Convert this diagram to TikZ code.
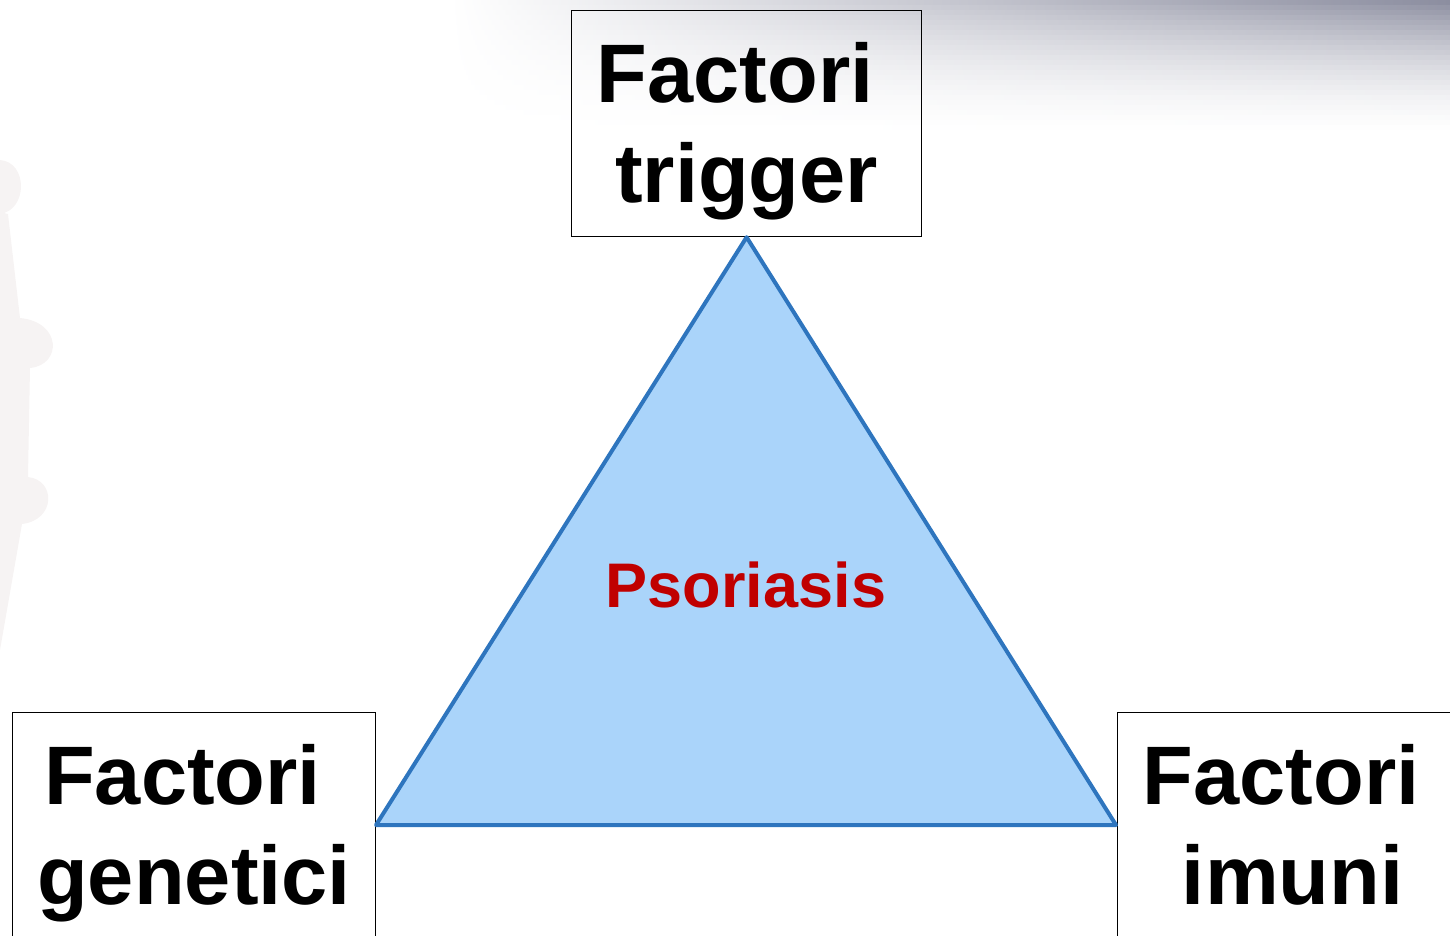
\documentclass[tikz,border=0pt]{standalone}
\usepackage{fontspec}
\setmainfont{Liberation Sans}
\usepackage{tikz}
\usetikzlibrary{positioning}

\definecolor{trifill}{RGB}{170,212,250}
\definecolor{triline}{RGB}{46,117,190}
\definecolor{psored}{RGB}{192,0,0}
\definecolor{shadegray}{RGB}{140,142,160}
\definecolor{piece}{RGB}{246,243,243}

\newcommand{\factorword}{\mbox{Factori\ }}

\begin{document}
\begin{tikzpicture}[
    x=1pt, y=-1pt,
    factor/.style={draw, black, line width=1.2pt, anchor=north west,
                   inner sep=0pt, align=center,
                   font=\fontsize{83}{100}\selectfont\bfseries},
    disease/.style={text=psored, font=\fontsize{63}{70}\selectfont\bfseries},
  ]
  \useasboundingbox (0,0) rectangle (1450,935);
  \clip (0,0) rectangle (1450,935);

  % ---------- background: gray band top right, faint chess piece left ----------
  \foreach \k in {0,...,27} {
    \pgfmathtruncatemacro{\depth}{100*(1-\k/28)^1.8}
    \fill[left color=white, right color=shadegray!\depth!white]
      (450,5*\k) rectangle (1450,5*\k+5.5);
  }
  \fill[piece] (0,160) .. controls (28,162) and (28,210) .. (0,214) -- cycle;
  \fill[piece] (0,212) -- (8,214) -- (20,318)
    .. controls (62,322) and (62,365) .. (30,368) -- (28,477)
    .. controls (56,480) and (56,520) .. (22,524) -- (0,650) -- cycle;

  % ---------- factor boxes ----------
  \node[factor, minimum width=350, minimum height=226] (trig) at (571,10)
    {\rule{0pt}{75pt}\factorword\\trigger};
  \node[factor, minimum width=363, minimum height=242] (gen) at (12,712)
    {\factorword\\genetici};
  \node[factor, minimum width=350, minimum height=225] (imun) at (1117,712)
    {\factorword\\imuni};

  % ---------- triangle between the boxes ----------
  \coordinate (apex) at (trig.south);
  \coordinate (lcorner) at (376,825);
  \coordinate (rcorner) at (1116,825);
  \draw[triline, fill=trifill, line width=4pt, line join=round]
    (apex) -- (lcorner) -- (rcorner) -- cycle;

  \node[disease, anchor=base] (pso) at (746,607) {Psoriasis};

\end{tikzpicture}
\end{document}
